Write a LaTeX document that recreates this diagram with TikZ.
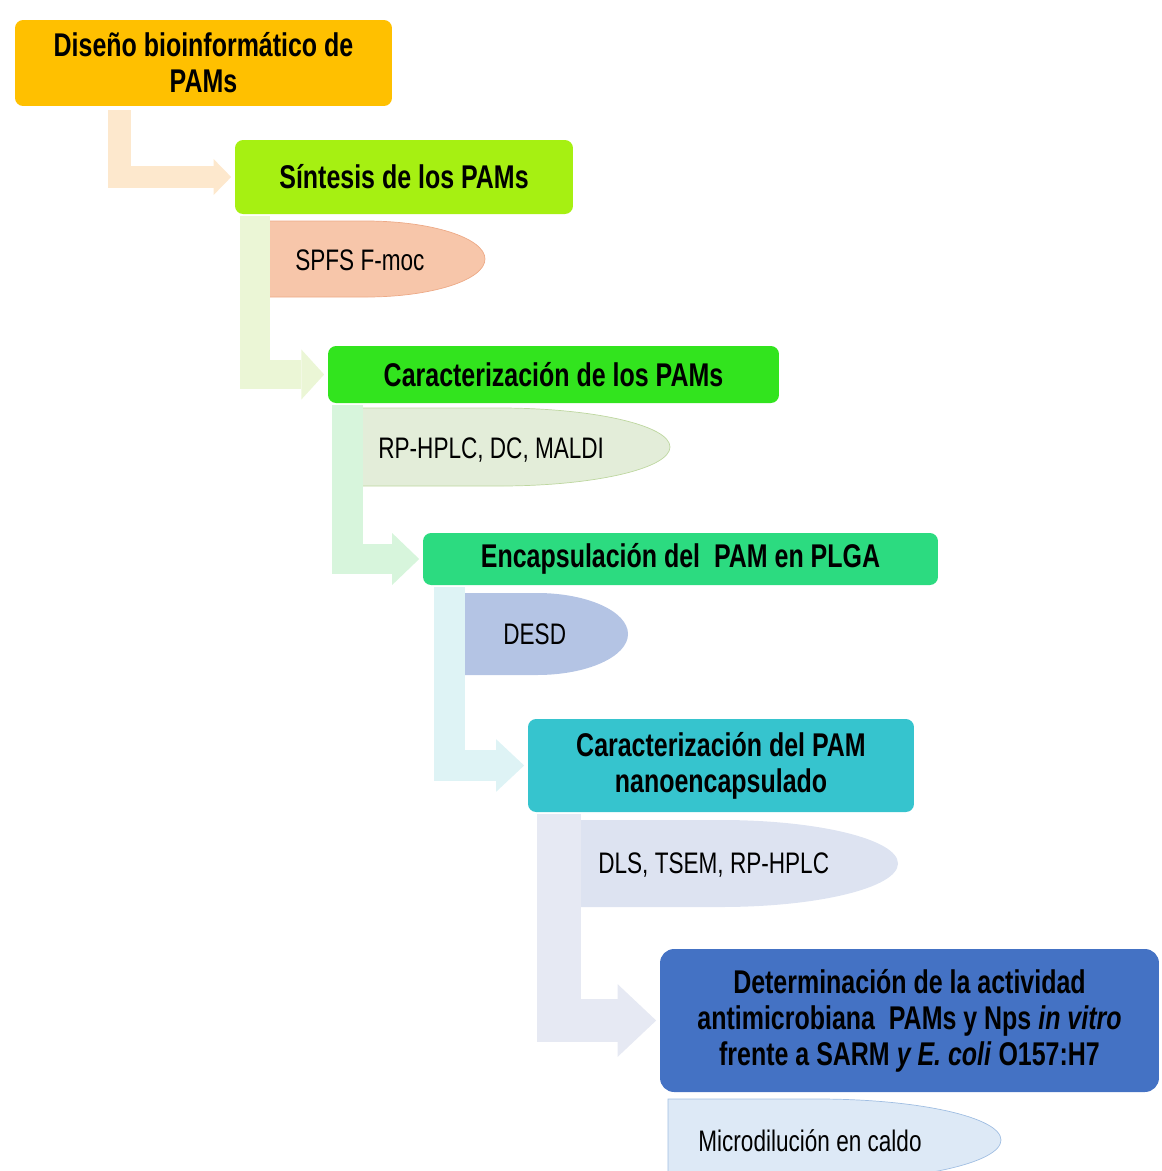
\documentclass[tikz,border=0pt]{standalone}
\usepackage{fontspec}
\setmainfont{Liberation Sans}[FakeStretch=0.76]
\usetikzlibrary{calc,arrows.meta}

% colores de las cajas
\definecolor{naranja}{RGB}{255,192,0}
\definecolor{lima}{RGB}{166,240,18}
\definecolor{verde}{RGB}{50,228,30}
\definecolor{verdeagua}{RGB}{44,219,128}
\definecolor{turquesa}{RGB}{54,196,206}
\definecolor{azul}{RGB}{68,114,196}
% colores de los semiovalos
\definecolor{salmon}{RGB}{247,198,170}
\definecolor{salmonb}{RGB}{237,170,135}
\definecolor{verdepal}{RGB}{227,237,217}
\definecolor{verdepalb}{RGB}{190,215,160}
\definecolor{lila}{RGB}{180,196,228}
\definecolor{grisazul}{RGB}{221,227,241}
\definecolor{celeste}{RGB}{221,233,246}
\definecolor{celesteb}{RGB}{160,190,226}
% colores de las flechas
\definecolor{fla}{RGB}{253,232,205}
\definecolor{flb}{RGB}{235,246,214}
\definecolor{flc}{RGB}{215,245,220}
\definecolor{fld}{RGB}{222,243,245}
\definecolor{fle}{RGB}{230,233,243}

\begin{document}
\begin{tikzpicture}[x=0.02cm,y=0.02cm,
    caja/.style={rounded corners=0.16cm, inner sep=0pt, align=center,
        font=\bfseries\fontsize{18.7}{20.5}\selectfont},
    cuerpo/.style={inner sep=0pt, anchor=base west, font=\fontsize{16.9}{19}\selectfont},
    flecha/.style={line join=miter, line cap=butt, shorten >=2pt}]
    \useasboundingbox (0,0) rectangle (1161,-1171);

    % cajas de las etapas
    \node[caja, fill=naranja, minimum width=7.54cm, minimum height=1.72cm] (dis) at (203.5,-63) {Diseño bioinformático de\\PAMs};
    \node[caja, fill=lima, minimum width=6.76cm, minimum height=1.48cm] (sin) at (404,-177) {Síntesis de los PAMs};
    \node[caja, fill=verde, minimum width=9.02cm, minimum height=1.14cm] (car) at (553.5,-374.5) {Caracterización de los PAMs};
    \node[caja, fill=verdeagua, minimum width=10.3cm, minimum height=1.04cm] (enc) at (680.5,-559) {Encapsulación del~~PAM en PLGA};
    \node[caja, fill=turquesa, minimum width=7.72cm, minimum height=1.86cm] (nan) at (721,-765.5) {Caracterización del PAM\\nanoencapsulado};
    \node[caja, rounded corners=0.28cm, fill=azul, minimum width=9.98cm, minimum height=2.86cm] (det) at (909.5,-1020.5)
        {Determinación de la actividad\\antimicrobiana~~PAMs y Nps \textit{in vitro}\\frente a SARM \textit{y E. coli} O157:H7};

    % semiovalos con las tecnicas
    \filldraw[fill=salmon, draw=salmonb] (269,-221) -- ++(97,0) arc[start angle=90, end angle=-90, x radius=119, y radius=38] -- (269,-297) -- cycle;
    \node[cuerpo] (spfs) at (295,-270) {SPFS F-moc};
    \filldraw[fill=verdepal, draw=verdepalb] (361,-408) -- ++(139,0) arc[start angle=90, end angle=-90, x radius=170, y radius=39] -- (361,-486) -- cycle;
    \node[cuerpo] (hplc) at (378,-458) {RP-HPLC, DC, MALDI};
    \fill[lila] (462,-593) -- ++(75,0) arc[start angle=90, end angle=-90, x radius=91, y radius=41] -- (462,-675) -- cycle;
    \node[cuerpo] (desd) at (503,-644) {DESD};
    \fill[grisazul] (577,-820) -- ++(144,0) arc[start angle=90, end angle=-90, x radius=177, y radius=43.5] -- (577,-907) -- cycle;
    \node[cuerpo] (dls) at (598,-873) {DLS, TSEM, RP-HPLC};
    \filldraw[fill=celeste, draw=celesteb] (668,-1099) -- ++(150,0) arc[start angle=90, end angle=-90, x radius=183, y radius=41] -- (668,-1181) -- cycle;
    \node[cuerpo] (micro) at (698,-1151) {Microdilución en caldo};

    % flechas en L
    \draw[flecha, fla, line width=13pt, -{Triangle[length=10pt, width=20.5pt, line width=0pt]}]
        ($(dis.south west)+(105,-4)$) |- (sin.west);
    \draw[flecha, flb, line width=17pt, -{Triangle[length=13pt, width=28.5pt, line width=0pt]}]
        ($(sin.south west)+(20,-2)$) |- (car.west);
    \draw[flecha, flc, line width=17.6pt, -{Triangle[length=15.4pt, width=29.6pt, line width=0pt]}]
        ($(car.south west)+(20,-2)$) |- (enc.west);
    \draw[flecha, fld, line width=17.6pt, -{Triangle[length=16pt, width=30pt, line width=0pt]}]
        ($(enc.south west)+(27,-2)$) |- (nan.west);
    \draw[flecha, fle, line width=25pt, -{Triangle[length=22pt, width=41.5pt, line width=0pt]}]
        ($(nan.south west)+(31,-2)$) |- (det.west);
\end{tikzpicture}
\end{document}
